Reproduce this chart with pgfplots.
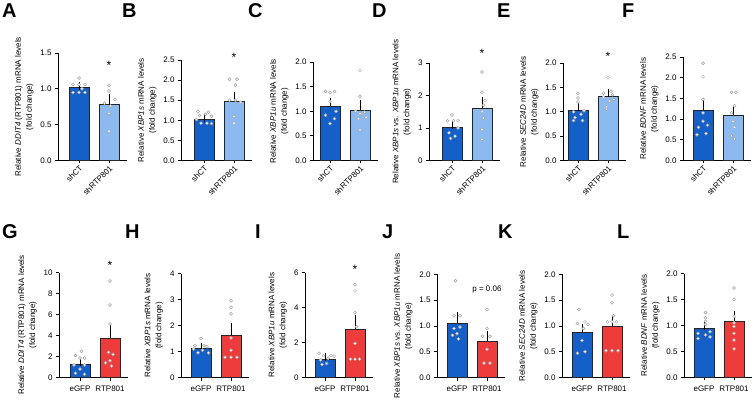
\documentclass[border=0pt]{standalone}
\usepackage{pgfplots}
\pgfplotsset{compat=1.18}
\usepackage{fontspec}
\setmainfont{Liberation Sans}
\definecolor{dblue}{RGB}{20,95,200}
\definecolor{lblue}{RGB}{140,185,240}
\definecolor{bred}{RGB}{238,60,60}
\definecolor{ptgray}{RGB}{165,165,165}
\pgfplotsset{
 panel/.style={
  scale only axis,
  axis x line*=bottom, axis y line*=left,
  ymin=0, xtick={0,1},
  tick align=outside, major tick length=3pt,
  axis line style={line width=0.8pt, black},
  tick style={line width=0.8pt, black},
  tick label style={font=\fontsize{8}{9}\selectfont},
  ylabel style={font=\fontsize{8}{11}\selectfont, align=center},
  /pgf/number format/assume math mode=true,
  clip=false,
  anchor=south west,
 },
 dec/.style={yticklabel style={/pgf/number format/.cd, fixed, fixed zerofill, precision=1}},
 toprow/.style={xticklabels={shCT,shRTP801}, xticklabel style={rotate=45, anchor=north east, inner sep=1pt}},
 botrow/.style={xticklabels={eGFP,RTP801}, xticklabel style={yshift=-2pt}},
 bar/.style={ybar, bar width=0.667, bar shift=0pt, draw=black!85, line width=0.6pt},
 sem/.style={draw=none, mark=none, forget plot, error bars/.cd, y dir=plus, y explicit, error bar style={draw=black, line width=0.8pt}, error mark options={draw=black, mark size=4pt, line width=0.8pt}},
 pts/.style={only marks, mark=*, mark size=1.5pt, mark options={draw=ptgray, fill=white, line width=0.5pt}},
}
\newcommand{\sig}{\fontsize{12}{12}\selectfont *}
\begin{document}
\begin{tikzpicture}
\useasboundingbox (0pt,0pt) rectangle (756pt,402pt);
\tikzset{lab/.style={font=\fontsize{20}{20}\selectfont\bfseries, anchor=base west, inner sep=0pt}}
\node[lab] at (2pt,384pt) {A};
\node[lab] at (122pt,384pt) {B};
\node[lab] at (248pt,384pt) {C};
\node[lab] at (372pt,384pt) {D};
\node[lab] at (497pt,384pt) {E};
\node[lab] at (622pt,384pt) {F};
\node[lab] at (2pt,163pt) {G};
\node[lab] at (125pt,163pt) {H};
\node[lab] at (255pt,163pt) {I};
\node[lab] at (382pt,163pt) {J};
\node[lab] at (498pt,163pt) {K};
\node[lab] at (617pt,163pt) {L};

% A
\begin{axis}[panel, toprow, dec, at={(58pt,241.5pt)}, width=69pt, height=107.5pt, xmin=-0.7, xmax=1.6, ymax=1.5, ytick={0,0.5,1,1.5},
 ylabel={Relative \textit{DDIT4} (RTP801) mRNA levels\\(fold change)}]
\addplot[bar, fill=dblue] coordinates {(0,1.02)};
\addplot[bar, fill=lblue] coordinates {(1,0.78)};
\addplot[sem] coordinates {(0,1.02) +- (0,0.02) (1,0.78) +- (0,0.09)};
\addplot[pts] coordinates {(0,1.15) (-0.2,1.06) (0,1.06) (0.2,1.06) (-0.2,0.95) (0,0.95) (0.2,0.95) (0.1,1.0)};
\addplot[pts] coordinates {(1,1.05) (1,0.97) (1.2,0.85) (0.85,0.80) (1.05,0.76) (1,0.66) (1,0.41)};
\node at (axis cs:1,1.33) {\sig};
\end{axis}
% B
\begin{axis}[panel, toprow, dec, at={(181pt,241.5pt)}, width=71pt, height=100.5pt, xmin=-0.767, xmax=1.6, ymax=2.5, ytick={0,0.5,...,2.5},
 ylabel={Relative \textit{XBP1s} mRNA levels\\(fold change)}]
\addplot[bar, fill=dblue] coordinates {(0,1.03)};
\addplot[bar, fill=lblue] coordinates {(1,1.47)};
\addplot[sem] coordinates {(0,1.03) +- (0,0.035) (1,1.47) +- (0,0.13)};
\addplot[pts] coordinates {(-0.2,1.22) (0.15,1.2) (0.05,1.15) (-0.15,1.12) (0.25,1.1) (-0.25,1.02) (0.1,0.93) (-0.1,0.93) (0.25,0.92)};
\addplot[pts] coordinates {(0.85,2.02) (1.1,2.02) (1.05,1.88) (0.85,1.5) (1.05,1.5) (1.22,1.45) (1.0,1.1) (1.0,0.93)};
\node at (axis cs:1,2.57) {\sig};
\end{axis}
% C
\begin{axis}[panel, toprow, dec, at={(313pt,241.5pt)}, width=65pt, height=98.5pt, xmin=-0.567, xmax=1.6, ymax=2, ytick={0,0.5,...,2},
 ylabel={Relative \textit{XBP1u} mRNA levels\\(fold change)}]
\addplot[bar, fill=dblue] coordinates {(0,1.10)};
\addplot[bar, fill=lblue] coordinates {(1,1.02)};
\addplot[sem] coordinates {(0,1.10) +- (0,0.09) (1,1.02) +- (0,0.13)};
\addplot[pts] coordinates {(-0.15,1.4) (0.0,1.38) (0.15,1.4) (0.0,1.2) (0.2,1.0) (-0.15,0.92) (0.15,0.85) (0,0.75)};
\addplot[pts] coordinates {(1,1.83) (1,1.3) (0.85,1.0) (1.0,0.95) (1.15,0.98) (1.2,0.88) (0.95,0.85) (1.0,0.62)};
\end{axis}
% D
\begin{axis}[panel, toprow, at={(429pt,241.5pt)}, width=71pt, height=97.5pt, xmin=-0.767, xmax=1.6, ymax=3, ytick={0,1,2,3},
 ylabel={Relative \textit{XBP1s} vs. \textit{XBP1u} mRNA levels\\(fold change)}]
\addplot[bar, fill=dblue] coordinates {(0,1.02)};
\addplot[bar, fill=lblue] coordinates {(1,1.6)};
\addplot[sem] coordinates {(0,1.02) +- (0,0.07) (1,1.6) +- (0,0.22)};
\addplot[pts] coordinates {(0,1.4) (-0.15,1.22) (0.05,1.22) (0.2,1.22) (0.2,1.0) (-0.1,0.85) (0.1,0.75) (-0.05,0.68)};
\addplot[pts] coordinates {(1,2.72) (1,2.1) (1.1,1.85) (1.05,1.7) (1,1.5) (1.05,1.3) (1,0.95) (1,0.65)};
\node at (axis cs:1,3.31) {\sig};
\end{axis}
% E
\begin{axis}[panel, toprow, dec, at={(563pt,241.5pt)}, width=63pt, height=97.5pt, xmin=-0.5, xmax=1.6, ymax=2, ytick={0,0.5,...,2},
 ylabel={Relative \textit{SEC24D} mRNA levels\\(fold change)}]
\addplot[bar, fill=dblue] coordinates {(0,1.02)};
\addplot[bar, fill=lblue] coordinates {(1,1.31)};
\addplot[sem] coordinates {(0,1.02) +- (0,0.07) (1,1.31) +- (0,0.07)};
\addplot[pts] coordinates {(0,1.38) (0,1.28) (0,1.2) (-0.15,1.0) (0.2,1.02) (0.1,0.95) (-0.1,0.88) (-0.15,0.82) (0.15,0.82)};
\addplot[pts] coordinates {(1,1.7) (1.1,1.42) (0.85,1.38) (1.15,1.35) (0.85,1.3) (1.2,1.25) (1.05,1.22) (0.95,1.1) (0.95,1.05)};
\node at (axis cs:1,2.14) {\sig};
\end{axis}
% F
\begin{axis}[panel, toprow, dec, at={(683pt,241.5pt)}, width=68pt, height=103.5pt, xmin=-0.667, xmax=1.6, ymax=2.5, ytick={0,0.5,...,2.5},
 ylabel={Relative \textit{BDNF} mRNA levels\\(fold change)}]
\addplot[bar, fill=dblue] coordinates {(0,1.21)};
\addplot[bar, fill=lblue] coordinates {(1,1.10)};
\addplot[sem] coordinates {(0,1.21) +- (0,0.21) (1,1.10) +- (0,0.15)};
\addplot[pts] coordinates {(0,2.35) (0,2.02) (0,1.48) (0,1.15) (0,0.95) (-0.15,0.8) (0.15,0.85) (-0.2,0.62) (0.1,0.65)};
\addplot[pts] coordinates {(0.95,1.65) (1.1,1.65) (1.05,1.32) (0.95,1.15) (1.0,0.95) (1.05,0.80) (0.95,0.60) (1.05,0.52)};
\end{axis}

% G
\begin{axis}[panel, botrow, at={(59pt,24.5pt)}, width=69pt, height=105pt, xmin=-0.7, xmax=1.6, ymax=10, ytick={0,2,...,10},
 ylabel={Relative \textit{DDIT4} (RTP801) mRNA levels\\(fold change)}]
\addplot[bar, fill=dblue] coordinates {(0,1.25)};
\addplot[bar, fill=bred] coordinates {(1,3.75)};
\addplot[sem] coordinates {(0,1.25) +- (0,0.25) (1,3.75) +- (0,0.9)};
\addplot[pts] coordinates {(0.05,2.5) (-0.15,2.1) (0,1.85) (0.15,1.85) (-0.2,1.2) (0.15,1.2) (0,0.8) (-0.15,0.4) (0.15,0.3)};
\addplot[pts] coordinates {(1,9.2) (1,6.9) (1,5.1) (0.95,2.4) (1.1,2.2) (1.0,1.6) (0.85,1.4) (1.05,1.1)};
\node at (axis cs:1,10.66) {\sig};
\end{axis}
% H
\begin{axis}[panel, botrow, at={(181pt,24.5pt)}, width=68pt, height=104pt, xmin=-0.667, xmax=1.6, ymax=4, ytick={0,1,2,3,4},
 ylabel={Relative \textit{XBP1s} mRNA levels\\(fold change)}]
\addplot[bar, fill=dblue] coordinates {(0,1.12)};
\addplot[bar, fill=bred] coordinates {(1,1.62)};
\addplot[sem] coordinates {(0,1.12) +- (0,0.06) (1,1.62) +- (0,0.33)};
\addplot[pts] coordinates {(0,1.5) (-0.2,1.22) (0.1,1.22) (0.2,1.18) (-0.25,1.1) (0.05,1.05) (-0.1,0.95) (0.25,0.95)};
\addplot[pts] coordinates {(1,2.95) (1,2.7) (1,2.45) (1,1.52) (1,1.05) (0.8,0.78) (1.0,0.78) (1.2,0.78)};
\end{axis}
% I
\begin{axis}[panel, botrow, at={(305pt,24.5pt)}, width=68pt, height=105pt, xmin=-0.667, xmax=1.6, ymax=6, ytick={0,2,4,6},
 ylabel={Relative \textit{XBP1u} mRNA levels\\(fold change)}]
\addplot[bar, fill=dblue] coordinates {(0,1.05)};
\addplot[bar, fill=bred] coordinates {(1,2.75)};
\addplot[sem] coordinates {(0,1.05) +- (0,0.1) (1,2.75) +- (0,0.6)};
\addplot[pts] coordinates {(-0.2,1.38) (0.2,1.25) (-0.05,1.25) (0.3,1.22) (0.1,1.1) (-0.15,1.0) (0.05,0.8) (-0.1,0.75)};
\addplot[pts] coordinates {(1,5.3) (1,4.95) (1,3.7) (1.05,2.9) (1,1.95) (0.85,1.05) (1.0,1.05) (1.15,1.05)};
\node at (axis cs:1,6.2) {\sig};
\end{axis}
% J
\begin{axis}[panel, botrow, dec, at={(437pt,24.5pt)}, width=68pt, height=103pt, xmin=-0.667, xmax=1.6, ymax=2, ytick={0,0.5,...,2},
 ylabel={Relative \textit{XBP1s} vs. \textit{XBP1u} mRNA levels\\(fold change)}]
\addplot[bar, fill=dblue] coordinates {(0,1.06)};
\addplot[bar, fill=bred] coordinates {(1,0.70)};
\addplot[sem] coordinates {(0,1.06) +- (0,0.14) (1,0.70) +- (0,0.12)};
\addplot[pts] coordinates {(-0.05,1.88) (-0.1,1.2) (0.1,1.2) (-0.1,0.95) (0.1,0.98) (0,0.85) (-0.15,0.82) (0.05,0.75)};
\addplot[pts] coordinates {(1,1.32) (1,0.95) (0.85,0.8) (1.1,0.8) (1,0.55) (0.9,0.28) (1.1,0.28)};
\node[font=\fontsize{8}{9}\selectfont] at (axis cs:1,1.71) {p = 0.06};
\end{axis}
% K
\begin{axis}[panel, botrow, dec, at={(562pt,24.5pt)}, width=68pt, height=103pt, xmin=-0.667, xmax=1.6, ymax=2, ytick={0,0.5,...,2},
 ylabel={Relative \textit{SEC24D} mRNA levels\\(fold change)}]
\addplot[bar, fill=dblue] coordinates {(0,0.88)};
\addplot[bar, fill=bred] coordinates {(1,1.0)};
\addplot[sem] coordinates {(0,0.88) +- (0,0.08) (1,1.0) +- (0,0.13)};
\addplot[pts] coordinates {(-0.1,1.32) (0.1,1.08) (-0.15,1.05) (0.2,1.03) (0.05,0.95) (0,0.72) (0.1,0.5) (-0.15,0.47)};
\addplot[pts] coordinates {(1,1.6) (1,1.45) (1.05,1.2) (0.85,1.08) (1.0,1.08) (1.15,1.08) (0.8,0.52) (1.0,0.52) (1.2,0.52)};
\end{axis}
% L
\begin{axis}[panel, botrow, dec, at={(684pt,24.5pt)}, width=68pt, height=104pt, xmin=-0.667, xmax=1.6, ymax=2, ytick={0,0.5,...,2},
 ylabel={Relative \textit{BDNF} mRNA levels\\(fold change)}]
\addplot[bar, fill=dblue] coordinates {(0,0.95)};
\addplot[bar, fill=bred] coordinates {(1,1.08)};
\addplot[sem] coordinates {(0,0.95) +- (0,0.05) (1,1.08) +- (0,0.12)};
\addplot[pts] coordinates {(0.05,1.25) (0.05,1.15) (0.05,1.08) (0.05,1.02) (0.2,0.88) (-0.2,0.85) (0.05,0.82) (0.2,0.78) (-0.2,0.75)};
\addplot[pts] coordinates {(1,1.72) (1,1.5) (1,1.18) (1,1.05) (1,0.98) (1,0.85) (1,0.72) (1,0.55)};
\end{axis}
\end{tikzpicture}
\end{document}
